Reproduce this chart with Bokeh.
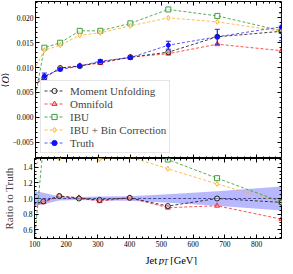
import math
from bokeh.plotting import figure
from bokeh.models import (Range1d, LinearAxis, FixedTicker, Legend, LegendItem,
                          CustomJSTickFormatter)
from bokeh.core.properties import value
from bokeh.layouts import column, row
from bokeh.embed import file_html
from bokeh.resources import INLINE

# ---- data ----
pt = [80, 128, 178, 240, 305, 400, 520, 675, 878]
truth = [0.0064, 0.0083, 0.0096, 0.0103, 0.0113, 0.0120, 0.0145, 0.0162, 0.0182]
truth_err = [0.0007, 0.0006, 0.00025, 0.0002, 0.0003, 0.00036, 0.0008, 0.0015, 0.0028]
moment = [0.0058, 0.0080, 0.0099, 0.0103, 0.0111, 0.0121, 0.0131, 0.0162, 0.0173]
omnifold = [0.00566, 0.0079, 0.0099, 0.0104, 0.0109, 0.0121, 0.0128, 0.0147, 0.0134]
ibu = [-0.0025, 0.0140, 0.0150, 0.0174, 0.0174, 0.0189, 0.0217, 0.0204, 0.0174]
ibu_bc = [0.0077, 0.0135, 0.0145, 0.0165, 0.0170, 0.0184, 0.0200, 0.0192, 0.0173]

x_ticks = [100, 200, 300, 400, 500, 600, 700, 800]
top_ticks = [-0.005, 0.0, 0.005, 0.01, 0.015, 0.02]
top_tick_labels = ["\u22120.005", "0.000", "0.005", "0.010", "0.015", "0.020"]
ratio_ticks = [0.6, 0.8, 1.0, 1.2, 1.4]
ratio_tick_labels = ["0.6", "0.8", "1.0", "1.2", "1.4"]
ylabel_parts = ["\u27e8", "Q", "\u27e9"]
xlabel_parts = ["Jet", "p", "T", "[GeV]"]

SERIF = "Liberation Serif"
DASH = "3 2"

series = [
    ("IBU", ibu, "#3c9e3c", "square", "white", 0.6),
    ("IBU + Bin Correction", ibu_bc, "#ffb02e", "diamond", "white", 0.6),
    ("Omnifold", omnifold, "#ff3030", "triangle", "#ff3030", 0.25),
    ("Moment Unfolding", moment, "#202020", "circle", "white", 0.4),
]

XR = Range1d(100, 878)
EMPTY = CustomJSTickFormatter(code="return ''")
QW = 9          # width of the strip holding the <Q> label
BL = 32         # left border of the panels (frame left edge)
TOP_H, BOT_H, LAB_H = 158, 91, 16


def style_axis(ax, show_labels):
    ax.axis_line_color = None
    ax.major_tick_in = 4
    ax.major_tick_out = 0
    ax.minor_tick_in = 2
    ax.minor_tick_out = 0
    ax.major_tick_line_color = "black"
    ax.minor_tick_line_color = "black"
    ax.major_label_text_font = SERIF
    ax.major_label_text_font_size = "7.5px"
    ax.major_label_text_color = "black"
    ax.major_label_standoff = 2
    if not show_labels:
        ax.formatter = EMPTY
        ax.major_label_text_font_size = "0px"
        ax.major_label_standoff = 0


def make_fig(width, height, yr, border_left, border_bottom, border_top):
    p = figure(width=width, height=height, x_range=XR, y_range=yr,
               output_backend="svg", toolbar_location=None,
               min_border_left=border_left, min_border_right=4,
               min_border_top=border_top, min_border_bottom=border_bottom)
    p.outline_line_color = "black"
    p.outline_line_width = 1
    p.xgrid.visible = False
    p.ygrid.visible = False
    p.add_layout(LinearAxis(), "right")
    p.add_layout(LinearAxis(), "above")
    return p


def strip(width, height):
    s = figure(width=width, height=height, x_range=Range1d(0, width),
               y_range=Range1d(0, height), output_backend="svg",
               toolbar_location=None, min_border=0,
               x_axis_type=None, y_axis_type=None)
    s.outline_line_color = None
    s.xgrid.visible = False
    s.ygrid.visible = False
    return s


xt = FixedTicker(ticks=x_ticks, minor_ticks=list(range(100, 881, 20)))

# ---------------- top panel ----------------
top = make_fig(285 - QW, TOP_H, Range1d(-0.0083, 0.0233), BL - QW, 0, 1)
yt_top = FixedTicker(ticks=top_ticks,
                     minor_ticks=[round(-0.008 + 0.001 * i, 3) for i in range(32)])
for ax in (top.below[0], top.above[0]):
    ax.ticker = xt
    style_axis(ax, False)
top.left[0].ticker = yt_top
style_axis(top.left[0], True)
top.right[0].ticker = yt_top
style_axis(top.right[0], False)
top.left[0].major_label_overrides = dict(zip(top_ticks, top_tick_labels))

items = []
for name, vals, col, mk, fill, falpha in series:
    l = top.line(pt, vals, line_color=col, line_dash=DASH, line_width=1, line_alpha=0.85)
    s = top.scatter(pt, vals, marker=mk, size=5, line_color=col, fill_color=fill,
                    fill_alpha=falpha, line_width=1)
    items.append((name, [l, s]))

lo = [t - e for t, e in zip(truth, truth_err)]
hi = [t + e for t, e in zip(truth, truth_err)]
tl = top.line(pt, truth, line_color="#3030ff", line_dash=DASH, line_width=1, line_alpha=0.8)
top.segment(pt, lo, pt, hi, line_color="#2020ff", line_width=1.2)
top.scatter(pt, lo, marker="dash", size=5, line_color="#2020ff", line_width=1)
top.scatter(pt, hi, marker="dash", size=5, line_color="#2020ff", line_width=1)
ts = top.scatter(pt, truth, marker="circle", size=4, line_color="#1010ff", fill_color="#1010ff")

order = ["Moment Unfolding", "Omnifold", "IBU", "IBU + Bin Correction"]
lookup = dict(items)
legend_items = [LegendItem(label=n, renderers=lookup[n]) for n in order]
legend_items.append(LegendItem(label="Truth", renderers=[tl, ts]))
legend = Legend(items=legend_items, location="bottom_left",
                label_text_font=SERIF, label_text_font_size="11px",
                glyph_width=20, glyph_height=13, label_height=13,
                label_standoff=6, spacing=0, padding=3, margin=5,
                border_line_color="#cccccc", background_fill_alpha=0.85)
top.add_layout(legend)

# <Q> label strip left of the top panel, drawn as three rotated pieces
qs = strip(QW, TOP_H)
yc = TOP_H / 2.0
qs.text(x=[QW / 2.0], y=[yc - 5.5], text=[ylabel_parts[0]], angle=math.pi / 2,
        text_font=value("DejaVu Serif"), text_font_size="10px",
        text_align="center", text_baseline="middle")
qs.text(x=[QW / 2.0], y=[yc], text=[ylabel_parts[1]], angle=math.pi / 2,
        text_font=value(SERIF), text_font_size="10px", text_font_style="italic",
        text_align="center", text_baseline="middle")
qs.text(x=[QW / 2.0], y=[yc + 5.5], text=[ylabel_parts[2]], angle=math.pi / 2,
        text_font=value("DejaVu Serif"), text_font_size="10px",
        text_align="center", text_baseline="middle")

# ---------------- ratio panel ----------------
bot = make_fig(285, BOT_H, Range1d(0.49, 1.51), BL, 11, 0)
yt_bot = FixedTicker(ticks=ratio_ticks,
                     minor_ticks=[round(0.5 + 0.05 * i, 2) for i in range(21)])
bot.below[0].ticker = xt
style_axis(bot.below[0], True)
bot.above[0].ticker = xt
style_axis(bot.above[0], False)
bot.left[0].ticker = yt_bot
style_axis(bot.left[0], True)
bot.right[0].ticker = yt_bot
style_axis(bot.right[0], False)
by = bot.left[0]
by.major_label_overrides = dict(zip(ratio_ticks, ratio_tick_labels))
by.axis_label = "Ratio to Truth"
by.axis_label_text_font = SERIF
by.axis_label_text_font_size = "11px"
by.axis_label_text_font_style = "normal"
by.axis_label_standoff = 5

band_lo = [1 - e / t for t, e in zip(truth, truth_err)]
band_hi = [1 + e / t for t, e in zip(truth, truth_err)]
bot.varea(x=pt, y1=band_lo, y2=band_hi, fill_color="#3333ff", fill_alpha=0.35)
bot.line(pt, [t / t for t in truth], line_color="#4a4a9a", line_dash=DASH, line_width=1)

for name, vals, col, mk, fill, falpha in series:
    r = [v / t for v, t in zip(vals, truth)]
    bot.line(pt, r, line_color=col, line_dash=DASH, line_width=1, line_alpha=0.85)
    bot.scatter(pt, r, marker=mk, size=5, line_color=col, fill_color=fill,
                fill_alpha=falpha, line_width=1)

# ---------------- x-axis label strip: "Jet p_T [GeV]" ----------------
lab = strip(285, LAB_H)
lab.text(x=[128], y=[5], text=[xlabel_parts[0]], text_font=value(SERIF),
         text_font_size="10.5px", text_align="left", text_baseline="alphabetic")
lab.text(x=[143.5], y=[5], text=[xlabel_parts[1]], text_font=value(SERIF),
         text_font_size="10.5px", text_font_style="italic",
         text_align="left", text_baseline="alphabetic")
lab.text(x=[149], y=[3], text=[xlabel_parts[2]], text_font=value(SERIF),
         text_font_size="7.5px", text_font_style="italic",
         text_align="left", text_baseline="alphabetic")
lab.text(x=[156.5], y=[5], text=[xlabel_parts[3]], text_font=value(SERIF),
         text_font_size="10.5px", text_align="left", text_baseline="alphabetic")

layout = column(row(qs, top, spacing=0), bot, lab, spacing=0)
open("out.html", "w").write(file_html(layout, INLINE))
